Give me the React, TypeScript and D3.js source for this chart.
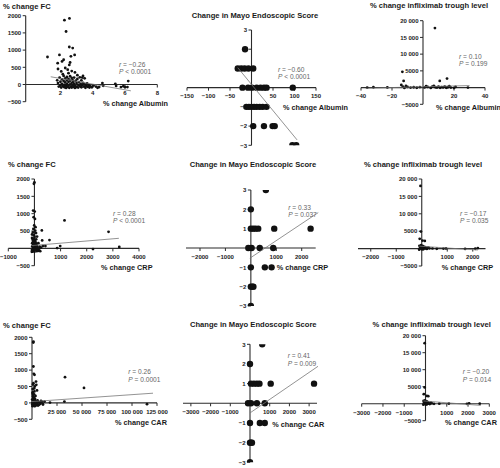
import React from "react";
import * as d3 from "d3";

const FONT = "'Liberation Sans', Arial, Helvetica, sans-serif";

// ---------- DATA ----------
// Row 1: x = % change Albumin
const albFc: [number, number][] = [
  [2.25, 1870], [2.56, 1920], [2.35, 1540], [2.55, 1090], [2.76, 1060], [1.2, 800], [1.94, 860], [2.65, 820],
  [2.88, 860], [2.2, 720], [2.1, 670], [1.83, 620], [2.6, 640], [2.55, 570], [2.3, 480], [2.45, 430], [2.7, 390],
  [1.85, 450], [2.9, 350], [3.05, 270], [3.4, 250], [3.35, 200], [2.05, 380], [2.15, 300], [2.5, 330],
  [1.8, 120], [1.85, 40], [1.9, -60], [1.95, 200], [2.0, 80], [2.0, -20], [2.05, -90], [2.1, 150], [2.1, 20],
  [2.15, -50], [2.2, 250], [2.2, 100], [2.25, -10], [2.25, -80], [2.3, 180], [2.3, 60], [2.35, -40], [2.35, -100],
  [2.4, 220], [2.4, 120], [2.4, 10], [2.45, -70], [2.5, 160], [2.5, 70], [2.5, -30], [2.55, -95], [2.6, 240],
  [2.6, 110], [2.6, 0], [2.65, -60], [2.7, 190], [2.7, 50], [2.7, -90], [2.75, 130], [2.75, -20], [2.8, 80],
  [2.8, -70], [2.85, 200], [2.85, 20], [2.9, -40], [2.9, -100], [2.95, 110], [3.0, 40], [3.0, -60], [3.05, 160],
  [3.1, -10], [3.1, -90], [3.15, 70], [3.2, -50], [3.25, 20], [3.3, 120], [3.3, -80], [3.35, -20], [3.4, 50],
  [3.45, -60], [3.5, 0], [3.55, -95], [3.6, -40], [3.65, 30], [3.7, -70], [3.75, -20], [3.8, -90], [3.85, -50],
  [3.95, -80], [4.05, -30], [4.2, -60], [4.3, -95], [3.5, 180], [3.2, 210], [2.95, -80],
  [4.6, 40], [4.4, -76], [4.65, -38], [5.4, 20], [5.45, -40], [5.75, -76], [5.9, -50], [6.0, -80], [6.2, 100], [6.15, -76],
];
const albMayo: [number, number][] = [
  [-15, 2],
  [-32, 1], [-24, 1], [-16, 1], [-7, 1], [4, 1],
  [-21, 0], [-8, 0], [1, 0], [12, 0], [21, 0], [29, 0], [35, 0], [96, 0],
  [-12, -1], [-6, -1], [0, -1], [6, -1], [12, -1], [19, -1], [26, -1], [35, -1],
  [4, -2], [29, -2], [49, -2], [54, -2],
  [95, -3], [104, -3],
];
const albIfx: [number, number][] = [
  [7.7, 17800], [-13.3, 4700], [-12.5, 2000], [10.8, 2000], [15.5, 2700],
  [-36, 0], [-32, 100], [-23, 50], [-13, 300], [-12, -100], [-10, 200], [-8, 0], [-6, 100], [-4, -50],
  [-2, 150], [1, 50], [3, 200], [5, -100], [6, 300], [8, 100], [9, 0], [10, 250], [11, -80], [12, 150],
  [13, 50], [14, 300], [15, -50], [16, 100], [17, 400], [18, 0], [20, -100], [21, 200], [29, 0],
  [-14, 800], [-11, 500], [2, 400], [7, 500],
];
// Row 2: x = % change CRP
const crpFc: [number, number][] = [
  [0, 1900], [-20, 1860], [-50, 1090], [10, 1060], [-30, 900], [20, 850], [-10, 660], [40, 610], [-40, 560],
  [30, 510], [283, 517], [-60, 460], [60, 440], [-20, 380], [100, 340], [295, 230], [575, 240], [1150, 805],
  [2835, 477], [3245, 40], [985, 66], [870, 8], [2240, -20], [320, 66], [420, 66],
  [-90, 300], [-70, 250], [-50, 200], [-30, 160], [-10, 120], [10, 80], [30, 40], [50, 0], [70, -40], [90, -80],
  [-80, 60], [-60, 20], [-40, -20], [-20, -60], [0, -100], [20, 240], [40, 180], [60, 140], [80, 100], [100, 60],
  [120, 20], [140, -30], [160, -70], [180, -10], [200, 50], [-95, -50], [-85, 150], [-75, -90], [-55, 100],
  [-35, 280], [-15, 200], [5, 330], [25, -30], [45, 90], [65, 260], [85, 30], [105, -60], [150, 150], [250, 20],
  [220, -80], [-100, -100], [-90, 400],
];
const crpMayo: [number, number][] = [
  [590, 3], [0, 2],
  [0, 1], [90, 1], [180, 1], [290, 1], [920, 1], [2350, 1],
  [-100, 0], [30, 0], [350, 0], [880, 0],
  [0, -1], [550, -1], [815, -1],
  [0, -2], [60, -2], [100, -2],
  [0, -3],
];
const crpIfx: [number, number][] = [
  [-50, 18000], [-30, 4900], [-80, 2800], [30, 2300], [120, 2200],
  [-90, 800], [-60, 400], [-40, 200], [-20, 1000], [0, 600], [20, 100], [40, 300], [60, -200], [80, 500],
  [100, 150], [150, 50], [200, -100], [250, 300], [300, 100], [-100, -300], [-70, 0], [10, -200], [50, 700],
  [130, 400], [180, 200],
  [420, 50], [590, -50], [850, 0], [950, 50], [1700, -100], [2100, -50], [2200, 150],
];
// Row 3: x = % change CAR
const carFc: [number, number][] = [
  [1400, 1870], [1300, 1840], [1400, 1110], [1800, 885], [2500, 855], [1400, 600], [4000, 650], [4300, 550],
  [2200, 440], [5000, 380], [3500, 213], [33000, 784], [52000, 457], [32400, 40], [18000, 10], [115000, -40],
  [9700, 40], [9000, 60], [11000, -50], [12500, 40], [10500, -20],
  [500, 300], [800, 250], [1000, 200], [1200, 150], [1500, 100], [1800, 50], [2000, 0], [2300, -50], [2600, -90],
  [3000, 120], [3300, 60], [3600, -20], [4000, -70], [4500, 30], [5000, -40], [5500, 80], [6000, -80], [6500, 20],
  [7000, -60], [7500, 10], [8000, -30], [600, -100], [900, -60], [1100, 20], [1300, 80], [1600, -30], [1900, 170],
  [2100, 260], [2400, 350], [2700, 500], [700, 420], [900, 330], [1000, 560], [2800, -100], [3200, -80], [400, 0],
  [300, -50], [200, 100],
];
const carMayo: [number, number][] = [
  [620, 3], [0, 2],
  [50, 1], [200, 1], [350, 1], [480, 1], [1050, 1], [3250, 1],
  [-100, 0], [50, 0], [350, 0], [750, 0],
  [0, -1], [500, -1], [750, -1],
  [0, -2], [50, -2], [100, -2],
  [0, -3],
];
const carIfx: [number, number][] = [
  [-40, 17800], [-40, 4800], [-80, 2800], [60, 2300], [130, 2200],
  [-90, 800], [-60, 400], [-40, 200], [-20, 1000], [0, 600], [20, 100], [40, 300], [60, -200], [80, 500],
  [100, 150], [150, 50], [200, -100], [250, 300], [-100, -300], [-70, 0], [10, -200], [50, 700], [130, 400],
  [300, 100], [400, -50], [650, 0], [1100, 50], [1950, -50], [2050, 100], [2550, 0],
];

// Regression lines [x1, y1, x2, y2] in data units
const fitAlbFc = [1.4, 225, 6.36, -184];
const fitAlbMayo = [-32, 1.04, 106, -2.72];
const fitAlbIfx = [-37, -200, 30, 600];
const fitCrpFc = [-100, 80, 3230, 290];
const fitCrpMayo = [-40, -0.53, 2650, 1.83];
const fitCrpIfx = [-100, 700, 2200, -400];
const fitCarFc = [0, 40, 121000, 296];
const fitCarMayo = [0, -0.49, 3450, 1.88];
const fitCarIfx = [-100, 800, 2600, -500];

// Stats text
const statsR = ["r = \u22120.26", "r = \u22120.60", "r = 0.10", "r = 0.28", "r = 0.33", "r = \u22120.17", "r = 0.26", "r = 0.41", "r = \u22120.20"];
const statsP = ["P < 0.0001", "P < 0.0001", "P = 0.199", "P < 0.0001", "P = 0.037", "P = 0.035", "P = 0.0001", "P = 0.009", "P = 0.014"];

// Ticks
const fcYTicks = [-500, 0, 500, 1000, 1500, 2000];
const mayoYTicks = [-3, -2, -1, 1, 2, 3];
const ifxYTicks = [-5000, 5000, 10000, 15000, 20000];
const albXTicks1 = [2, 4, 6, 8];
const albXTicks2 = [-150, -100, -50, 50, 100, 150];
const albXTicks3 = [-40, -20, 20, 40];
const crpXTicks1 = [-1000, 1000, 2000, 3000, 4000];
const crpXTicks2 = [-2000, -1000, 1000, 2000];
const carXTicks1 = [25000, 50000, 75000, 100000, 125000];
const carXTicks2 = [-3000, -2000, -1000, 1000, 2000, 3000];

const titleFC = "% change FC";
const titleMayo = "Change in Mayo Endoscopic Score";
const titleIfx = "% change infliximab trough level";
const labelAlb = "% change Albumin";
const labelCrp = "% change CRP";
const labelCar = "% change CAR";

function fmt(v: number): string {
  const a = Math.abs(v);
  let s = a >= 10000 ? d3.format(",")(a).replace(/,/g, " ") : String(a);
  return (v < 0 ? "\u2212" : "") + s;
}

type Cfg = {
  data: [number, number][];
  fit: number[];
  xDomain: number[]; xRange: number[];
  yDomain: number[]; yRange: number[];
  yAxisAt: number;
  xTicks: number[]; yTicks: number[];
  r: number; big: boolean;
  title: string; titleX: number; titleY: number; titleAnchor: "start" | "middle";
  label: string; labelX: number; labelY: number;
  statX: number; statY: number; stat: number;
};

const panels: Cfg[] = [
  { data: albFc, fit: fitAlbFc, xDomain: [-0.15, 8], xRange: [25.7, 157.3], yDomain: [-500, 2000], yRange: [101.7, 15.7], yAxisAt: -0.15, xTicks: albXTicks1, yTicks: fcYTicks, r: 1.4, big: false,
    title: titleFC, titleX: 3, titleY: 8.7, titleAnchor: "start", label: labelAlb, labelX: 103, labelY: 105.5, statX: 119, statY: 66.5, stat: 0 },
  { data: albMayo, fit: fitAlbMayo, xDomain: [-150, 150], xRange: [187, 316], yDomain: [-3, 3], yRange: [145.3, 30], yAxisAt: 0, xTicks: albXTicks2, yTicks: mayoYTicks, r: 3.2, big: true,
    title: titleMayo, titleX: 255, titleY: 18, titleAnchor: "middle", label: labelAlb, labelX: 283, labelY: 110, statX: 278, statY: 71.5, stat: 1 },
  { data: albIfx, fit: fitAlbIfx, xDomain: [-40, 40], xRange: [361, 485], yDomain: [-5000, 20000], yRange: [104.3, 20.7], yAxisAt: 0, xTicks: albXTicks3, yTicks: ifxYTicks, r: 1.4, big: false,
    title: titleIfx, titleX: 429, titleY: 8.3, titleAnchor: "middle", label: labelAlb, labelX: 436, labelY: 110, statX: 459, statY: 58.5, stat: 2 },
  { data: crpFc, fit: fitCrpFc, xDomain: [-1000, 4000], xRange: [8.3, 139], yDomain: [-500, 2000], yRange: [265.7, 179], yAxisAt: 0, xTicks: crpXTicks1, yTicks: fcYTicks.filter((t) => t !== 0), r: 1.4, big: false,
    title: titleFC, titleX: 8, titleY: 167, titleAnchor: "start", label: labelCrp, labelX: 101, labelY: 270, statX: 113, statY: 215.5, stat: 3 },
  { data: crpMayo, fit: fitCrpMayo, xDomain: [-2550, 2550], xRange: [186, 315.7], yDomain: [-3, 3], yRange: [306, 190], yAxisAt: 0, xTicks: crpXTicks2, yTicks: mayoYTicks, r: 3.2, big: true,
    title: titleMayo, titleX: 253, titleY: 166.5, titleAnchor: "middle", label: labelCrp, labelX: 276.7, labelY: 270, statX: 288.3, statY: 209.5, stat: 4 },
  { data: crpIfx, fit: fitCrpIfx, xDomain: [-2500, 2500], xRange: [358, 485.5], yDomain: [-5000, 20000], yRange: [266, 179], yAxisAt: 0, xTicks: crpXTicks2, yTicks: ifxYTicks, r: 1.4, big: false,
    title: titleIfx, titleX: 423, titleY: 166.5, titleAnchor: "middle", label: labelCrp, labelX: 441.7, labelY: 269.5, statX: 460, statY: 215.5, stat: 5 },
  { data: carFc, fit: fitCarFc, xDomain: [0, 125000], xRange: [32, 157], yDomain: [-500, 2000], yRange: [419.3, 337.3], yAxisAt: 0, xTicks: carXTicks1, yTicks: fcYTicks, r: 1.4, big: false,
    title: titleFC, titleX: 3, titleY: 328, titleAnchor: "start", label: labelCar, labelX: 115, labelY: 424.5, statX: 128.3, statY: 374, stat: 6 },
  { data: carMayo, fit: fitCarMayo, xDomain: [-3400, 3400], xRange: [183, 317], yDomain: [-3, 3], yRange: [462.3, 344.3], yAxisAt: 0, xTicks: carXTicks2, yTicks: mayoYTicks, r: 3.2, big: true,
    title: titleMayo, titleX: 253.3, titleY: 327, titleAnchor: "middle", label: labelCar, labelX: 272.3, labelY: 427, statX: 287.7, statY: 358.3, stat: 7 },
  { data: carIfx, fit: fitCarIfx, xDomain: [-3000, 3000], xRange: [361.7, 489.3], yDomain: [-5000, 20000], yRange: [420.7, 335.7], yAxisAt: 0, xTicks: carXTicks2, yTicks: ifxYTicks, r: 1.4, big: false,
    title: titleIfx, titleX: 431.7, titleY: 326.5, titleAnchor: "middle", label: labelCar, labelX: 445, labelY: 424.5, statX: 462.7, statY: 374, stat: 8 },
];

const AXIS = "#2b2b2b";

function Panel({ cfg, idx }: { cfg: Cfg; idx: number }) {
  const x = d3.scaleLinear().domain(cfg.xDomain).range(cfg.xRange);
  const y = d3.scaleLinear().domain(cfg.yDomain).range(cfg.yRange);
  const ax = x(cfg.yAxisAt);
  const ay = y(0);
  const clipId = `clip-${idx}`;
  const x0 = Math.min(...cfg.xRange), x1 = Math.max(...cfg.xRange);
  const y0 = Math.min(...cfg.yRange), y1 = Math.max(...cfg.yRange);
  const line = d3.line<[number, number]>().x((d) => x(d[0])).y((d) => y(d[1]));
  const fitPts: [number, number][] = [[cfg.fit[0], cfg.fit[1]], [cfg.fit[2], cfg.fit[3]]];
  return (
    <g>
      <defs>
        <clipPath id={clipId}>
          <rect x={x0 - 4} y={y0} width={x1 - x0 + 8} height={y1 - y0} />
        </clipPath>
      </defs>
      <text x={cfg.titleX} y={cfg.titleY} textAnchor={cfg.titleAnchor} fontSize={7.6} fontWeight="bold" fill="#1a1a1a">{cfg.title}</text>
      {/* axes */}
      <line x1={x0} x2={x1} y1={ay} y2={ay} stroke={AXIS} strokeWidth={1.1} />
      <line x1={ax} x2={ax} y1={y0} y2={y1} stroke={AXIS} strokeWidth={1.1} />
      {cfg.xTicks.map((t) => (
        <g key={"x" + t}>
          <line x1={x(t)} x2={x(t)} y1={ay} y2={ay + 3} stroke={AXIS} strokeWidth={1} />
          <text x={x(t)} y={ay + 10.8} textAnchor="middle" fontSize={6} fontWeight="bold" fill="#222">{fmt(t)}</text>
        </g>
      ))}
      {cfg.yTicks.map((t) => (
        <g key={"y" + t}>
          <line x1={ax - 3} x2={ax} y1={y(t)} y2={y(t)} stroke={AXIS} strokeWidth={1} />
          <text x={ax - 4.5} y={y(t) + 2.2} textAnchor="end" fontSize={6} fontWeight="bold" fill="#222">{fmt(t)}</text>
        </g>
      ))}
      <text x={cfg.labelX} y={cfg.labelY} fontSize={7.3} fontWeight="bold" fill="#1a1a1a">{cfg.label}</text>
      <text x={cfg.statX} y={cfg.statY} fontSize={6.6} fill="#666">
        <tspan fontStyle="italic">{statsR[cfg.stat].slice(0, 1)}</tspan>{statsR[cfg.stat].slice(1)}
      </text>
      <text x={cfg.statX} y={cfg.statY + 7.7} fontSize={6.6} fill="#666">
        <tspan fontStyle="italic">{statsP[cfg.stat].slice(0, 1)}</tspan>{statsP[cfg.stat].slice(1)}
      </text>
      <g clipPath={`url(#${clipId})`}>
        {cfg.data.map((d, i) => (
          <circle key={i} cx={x(d[0])} cy={y(d[1])} r={cfg.r} fill="#111" />
        ))}
      </g>
      <path d={line(fitPts) || ""} stroke="#777" strokeWidth={0.8} fill="none" />
    </g>
  );
}

export default function App() {
  return (
    <svg width={500} height={468} style={{ position: "absolute", left: 0, top: 0, background: "#fff", fontFamily: FONT }}>
      <rect width={500} height={468} fill="#fff" />
      {panels.map((p, i) => (
        <Panel key={i} cfg={p} idx={i} />
      ))}
    </svg>
  );
}
